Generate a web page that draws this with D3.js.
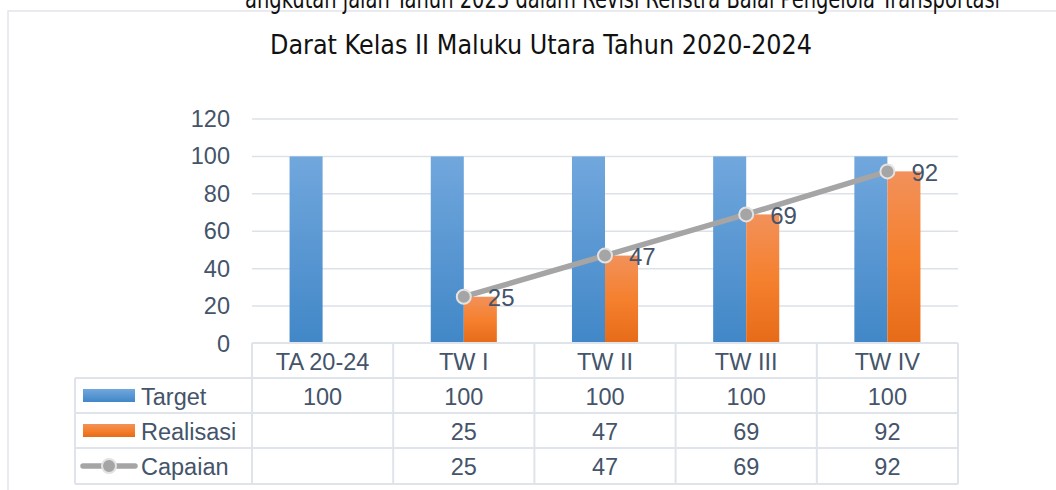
<!DOCTYPE html>
<html>
<head>
<meta charset="utf-8">
<script src="https://cdn.jsdelivr.net/npm/d3@7"></script>
<style>
  body { margin: 0; background: #fff; }
  svg { display: block; }
</style>
</head>
<body>
<div id="chart"></div>
<script>
var categories = ["TA 20-24", "TW I", "TW II", "TW III", "TW IV"];
var target = [100, 100, 100, 100, 100];
var realisasi = [null, 25, 47, 69, 92];
var capaian = [null, 25, 47, 69, 92];
var yTicks = [0, 20, 40, 60, 80, 100, 120];
var titleLines = ["angkutan jalan Tahun 2023 dalam Revisi Renstra Balai Pengelola Transportasi",
                  "Darat Kelas II Maluku Utara Tahun 2020-2024"];
var seriesNames = ["Target", "Realisasi", "Capaian"];

var W = 1056, H = 490;
var textColor = "#44546a", gridColor = "#dde1e8";
var fontSize = "23.5px";

var svg = d3.select("#chart").append("svg")
  .attr("width", W)
  .attr("height", H);

var defs = svg.append("defs");
var gBlue = defs.append("linearGradient").attr("id", "gBlue").attr("x1", 0).attr("y1", 0).attr("x2", 0).attr("y2", 1);
gBlue.append("stop").attr("offset", "0%").attr("stop-color", "#71a7dd");
gBlue.append("stop").attr("offset", "100%").attr("stop-color", "#4187c7");
var gOrange = defs.append("linearGradient").attr("id", "gOrange").attr("x1", 0).attr("y1", 0).attr("x2", 0).attr("y2", 1);
gOrange.append("stop").attr("offset", "0%").attr("stop-color", "#f2915a");
gOrange.append("stop").attr("offset", "50%").attr("stop-color", "#f5802e");
gOrange.append("stop").attr("offset", "100%").attr("stop-color", "#e66b18");

// chart frame (cut off at right and bottom)
svg.append("path")
  .attr("d", "M8," + (H + 5) + "V11H" + (W + 5))
  .attr("fill", "none")
  .attr("stroke", "#e2e5eb")
  .attr("stroke-width", 1.5);

// title (first line is cut by the top edge, as in the source page)
svg.append("text")
  .attr("x", 245).attr("y", 7.5)
  .attr("textLength", 755).attr("lengthAdjust", "spacingAndGlyphs")
  .style("font-family", "DejaVu Sans").style("font-size", "26px").style("fill", "#111")
  .text(titleLines[0]);
svg.append("text")
  .attr("x", 270).attr("y", 54)
  .attr("textLength", 542).attr("lengthAdjust", "spacingAndGlyphs")
  .style("font-family", "DejaVu Sans").style("font-size", "26px").style("fill", "#111")
  .text(titleLines[1]);

var x = d3.scaleBand().domain(categories).range([252, 958]).padding(0);
var y = d3.scaleLinear().domain([0, 120]).range([343.5, 119]);
var barW = x.bandwidth() * 0.234;
function cx(c) { return x(c) + x.bandwidth() / 2; }

// gridlines
svg.append("g").selectAll("line")
  .data(yTicks.slice(1))
  .enter().append("line")
  .attr("x1", 252).attr("x2", 958)
  .attr("y1", function(d) { return y(d); })
  .attr("y2", function(d) { return y(d); })
  .attr("stroke", gridColor).attr("stroke-width", 1.5);

// y axis labels
var yAxis = svg.append("g")
  .attr("transform", "translate(242,0)")
  .call(d3.axisLeft(y).tickValues(yTicks).tickSize(0).tickPadding(12));
yAxis.select(".domain").remove();
yAxis.selectAll("text")
  .style("font-family", "Liberation Sans, Arial").style("font-size", fontSize)
  .style("fill", textColor);

// bars
svg.append("g").selectAll("rect")
  .data(categories)
  .enter().append("rect")
  .attr("x", function(d) { return cx(d) - barW; })
  .attr("y", function(d, i) { return y(target[i]); })
  .attr("width", barW)
  .attr("height", function(d, i) { return y(0) - y(target[i]); })
  .attr("fill", "url(#gBlue)");

svg.append("g").selectAll("rect")
  .data(categories.filter(function(d, i) { return realisasi[i] != null; }))
  .enter().append("rect")
  .attr("x", function(d) { return cx(d); })
  .attr("y", function(d) { return y(realisasi[categories.indexOf(d)]); })
  .attr("width", barW)
  .attr("height", function(d) { return y(0) - y(realisasi[categories.indexOf(d)]); })
  .attr("fill", "url(#gOrange)");

// capaian line
var pts = categories.map(function(c, i) { return {c: c, v: capaian[i]}; })
  .filter(function(d) { return d.v != null; });
var line = d3.line()
  .x(function(d) { return cx(d.c); })
  .y(function(d) { return y(d.v); });
svg.append("path")
  .datum(pts)
  .attr("d", line)
  .attr("fill", "none")
  .attr("stroke", "#a5a5a5")
  .attr("stroke-width", 5.5)
  .attr("stroke-linecap", "round");
svg.append("g").selectAll("circle")
  .data(pts)
  .enter().append("circle")
  .attr("cx", function(d) { return cx(d.c); })
  .attr("cy", function(d) { return y(d.v); })
  .attr("r", 7)
  .attr("fill", "#a5a5a5")
  .attr("stroke", "#e3e3e3")
  .attr("stroke-width", 2);
svg.append("g").selectAll("text")
  .data(pts)
  .enter().append("text")
  .attr("x", function(d) { return cx(d.c) + 24; })
  .attr("y", function(d) { return y(d.v) + 1; })
  .attr("dy", "0.36em")
  .style("font-family", "Liberation Sans, Arial").style("font-size", "24px")
  .style("fill", textColor)
  .text(function(d) { return d.v; });

// data table
var rowTop = [343, 378, 413, 448, 484];
var tbl = svg.append("g");
var bc = "#dfe3ea";
tbl.append("line").attr("x1", 252).attr("x2", 958).attr("y1", rowTop[0]).attr("y2", rowTop[0])
  .attr("stroke", bc).attr("stroke-width", 2);
rowTop.slice(1).forEach(function(yy) {
  tbl.append("line").attr("x1", 75).attr("x2", 958).attr("y1", yy).attr("y2", yy)
    .attr("stroke", bc).attr("stroke-width", 2);
});
tbl.append("line").attr("x1", 75).attr("x2", 75).attr("y1", rowTop[1]).attr("y2", rowTop[4])
  .attr("stroke", bc).attr("stroke-width", 2);
categories.concat([null]).forEach(function(c) {
  var xx = c == null ? 958 : x(c);
  tbl.append("line").attr("x1", xx).attr("x2", xx).attr("y1", rowTop[0]).attr("y2", rowTop[4])
    .attr("stroke", bc).attr("stroke-width", 2);
});

function cellText(xx, row, t, anchor) {
  tbl.append("text")
    .attr("x", xx).attr("y", (rowTop[row] + rowTop[row + 1]) / 2 + 1)
    .attr("dy", "0.36em")
    .attr("text-anchor", anchor || "middle")
    .style("font-family", "Liberation Sans, Arial").style("font-size", fontSize)
    .style("fill", textColor)
    .text(t);
}
categories.forEach(function(c, i) {
  cellText(cx(c), 0, c);
  cellText(cx(c), 1, target[i]);
  if (realisasi[i] != null) cellText(cx(c), 2, realisasi[i]);
  if (capaian[i] != null) cellText(cx(c), 3, capaian[i]);
});

// legend keys
var midT = (rowTop[1] + rowTop[2]) / 2, midR = (rowTop[2] + rowTop[3]) / 2, midC = (rowTop[3] + rowTop[4]) / 2;
tbl.append("rect").attr("x", 83).attr("y", midT - 6.5).attr("width", 52).attr("height", 13).attr("fill", "url(#gBlue)");
tbl.append("rect").attr("x", 83).attr("y", midR - 6.5).attr("width", 52).attr("height", 13).attr("fill", "url(#gOrange)");
tbl.append("line").attr("x1", 83).attr("x2", 135).attr("y1", midC).attr("y2", midC)
  .attr("stroke", "#a5a5a5").attr("stroke-width", 5.5).attr("stroke-linecap", "round");
tbl.append("circle").attr("cx", 109).attr("cy", midC).attr("r", 7)
  .attr("fill", "#a5a5a5").attr("stroke", "#e3e3e3").attr("stroke-width", 2);
seriesNames.forEach(function(s, i) {
  cellText(141, i + 1, s, "start");
});
</script>
</body>
</html>
